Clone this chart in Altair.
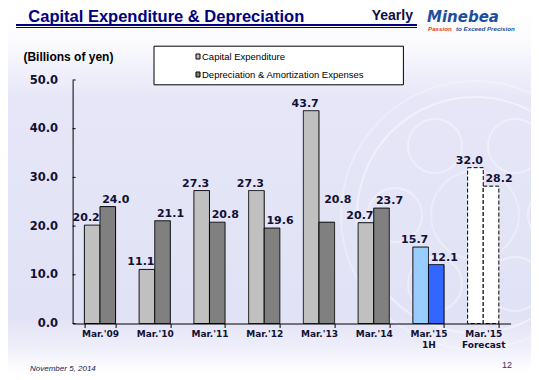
import altair as alt
import pandas as pd

periods = ["Mar.'09", "Mar.'10", "Mar.'11", "Mar.'12", "Mar.'13", "Mar.'14",
           "Mar.'15 1H", "Mar.'15 Forecast"]
capex = [20.2, 11.1, 27.3, 27.3, 43.7, 20.7, 15.7, 32.0]
depreciation = [24.0, 21.1, 20.8, 19.6, 20.8, 23.7, 12.1, 28.2]
series_names = ["Capital Expenditure", "Depreciation & Amortization Expenses"]
y_ticks = [0, 10, 20, 30, 40, 50]

rows = []
for i, p in enumerate(periods):
    phase = "actual" if i < 6 else ("half" if i == 6 else "forecast")
    for s, vals in zip(series_names, [capex, depreciation]):
        # lift a depreciation label when the next capital-expenditure label sits at the same height
        crowded = (s == series_names[1] and i + 1 < len(periods)
                   and abs(capex[i + 1] - vals[i]) < 1.5)
        rows.append({"period": p, "series": s, "value": vals[i],
                     "kind": phase + "|" + s, "crowded": crowded,
                     "dash": "dashed" if phase == "forecast" else "solid"})
df = pd.DataFrame(rows)

kind_domain = [ph + "|" + s for ph in ["actual", "half", "forecast"] for s in series_names]
kind_colors = ["#c0c0c0", "#808080", "#99ccff", "#3366ff", "#ffffff", "#ffffff"]

W, H = 438, 243.5
OX, OY = 72.6, 80.0
PAD = {"left": OX - 8, "top": OY - 8, "right": 523 - (OX - 8) - W, "bottom": 364 - (OY - 8) - H}


def px(x):
    return x - OX


def py(y):
    return y - OY


INK = "#111133"
NUMFONT = "DejaVu Sans"

x_enc = alt.X("period:N", sort=periods,
              scale=alt.Scale(paddingInner=0.43, paddingOuter=0.215),
              axis=alt.Axis(title=None, labelAngle=0, tickBand="extent", tickSize=4,
                            tickColor="black", domainColor="black", zindex=2,
                            labelFont=NUMFONT, labelFontWeight="bold", labelFontSize=9,
                            labelColor=INK, labelPadding=2, labelLineHeight=11,
                            labelExpr="split(datum.label, ' ')"))
xo_enc = alt.XOffset("series:N", sort=series_names,
                     scale=alt.Scale(paddingInner=0, paddingOuter=0))
y_enc = alt.Y("value:Q", scale=alt.Scale(domain=[0, 50], nice=False),
              axis=alt.Axis(title=None, values=y_ticks, format=".1f", ticks=False,
                            labelPadding=15, domainColor="black", grid=False, zindex=2,
                            labelFont=NUMFONT, labelFontWeight="bold", labelFontSize=11.5,
                            labelColor=INK))

one = alt.Data(values=[{}])


def txt(text, x, y, **kw):
    return alt.Chart(one).mark_text(text=text, align="left", baseline="alphabetic", **kw).encode(
        x=alt.value(x), y=alt.value(y))


def ring(cx, cy, r, op=0.45, sw=2):
    return alt.Chart(one).mark_point(shape="circle", filled=False, color="white",
                                     strokeWidth=sw, opacity=op, size=(2 * r) ** 2).encode(
        x=alt.value(px(cx)), y=alt.value(py(cy)))


bg = alt.Chart(one).mark_rect(
    fill=alt.LinearGradient(
        gradient="linear",
        stops=[alt.GradientStop(offset=0, color="#ffffff"),
               alt.GradientStop(offset=0.09, color="#fbfbfe"),
               alt.GradientStop(offset=0.25, color="#e6e6f8"),
               alt.GradientStop(offset=0.85, color="#e2e2f6"),
               alt.GradientStop(offset=0.93, color="#eeeefa"),
               alt.GradientStop(offset=1, color="#ffffff")],
        x1=0, x2=0, y1=0, y2=1)
).encode(x=alt.value(-PAD["left"]), x2=alt.value(W + PAD["right"]),
         y=alt.value(-PAD["top"]), y2=alt.value(H + PAD["bottom"]))

deco = [ring(475, 215, 118), ring(475, 215, 134, op=0.3), ring(475, 215, 44, op=0.3)]
for bx, by in [(555, 215), (515, 284), (435, 284), (395, 215), (435, 146), (515, 146)]:
    deco.append(ring(bx, by, 27, op=0.4))

title = txt("Capital Expenditure & Depreciation", px(28.3), py(21.5), font="Liberation Sans",
            fontSize=16.5, fontWeight="bold", color="#000080")
line1 = alt.Chart(one).mark_rule(color="#000080", strokeWidth=2).encode(
    x=alt.value(px(16)), x2=alt.value(px(417)), y=alt.value(py(25)))
line2 = alt.Chart(one).mark_rule(color="#000080", strokeWidth=1).encode(
    x=alt.value(px(16)), x2=alt.value(px(417)), y=alt.value(py(27.5)))
yearly = txt("Yearly", px(371.7), py(19.5), font="Liberation Sans", fontSize=14,
             fontWeight="bold", color="#0d0d4d")
logo = txt("Minebea", px(427), py(22), font="DejaVu Sans", fontSize=15,
           fontWeight="bold", fontStyle="italic", color="#1d4f9e")
slogan1 = txt("Passion", px(428), py(31.2), font="Liberation Sans", fontSize=6.2,
              fontWeight="bold", fontStyle="italic", color="#e8401c")
slogan2 = txt("to Exceed Precision", px(456), py(31.2), font="Liberation Sans", fontSize=6.2,
              fontWeight="bold", fontStyle="italic", color="#1d4f9e")
unit = txt("(Billions of yen)", px(23.4), py(60.5), font="Liberation Sans", fontSize=12,
           fontWeight="bold", color="#000000")

leg_box = alt.Chart(one).mark_rect(fill="white", stroke="black", strokeWidth=1).encode(
    x=alt.value(px(154)), x2=alt.value(px(403.4)), y=alt.value(py(46.2)), y2=alt.value(py(84.8)))
leg_sym1 = alt.Chart(one).mark_rect(fill="#c0c0c0", stroke="black", strokeWidth=1).encode(
    x=alt.value(px(196)), x2=alt.value(px(200)), y=alt.value(py(54)), y2=alt.value(py(59)))
leg_sym2 = alt.Chart(one).mark_rect(fill="#808080", stroke="black", strokeWidth=1).encode(
    x=alt.value(px(196)), x2=alt.value(px(200)), y=alt.value(py(72)), y2=alt.value(py(77)))
leg_t1 = txt(series_names[0], px(202), py(59.7), font="Liberation Sans", fontSize=9.5, color="#000000")
leg_t2 = txt(series_names[1], px(202), py(77.5), font="Liberation Sans", fontSize=9.5, color="#000000")

date = txt("November 5, 2014", px(30), py(371), font="Liberation Sans", fontSize=8,
           fontStyle="italic", color="#1a1a4a")
page = txt("12", px(502), py(368), font="Liberation Sans", fontSize=9, color="#333355")

bars = alt.Chart(df).mark_bar(stroke="black", strokeWidth=1).encode(
    x=x_enc, xOffset=xo_enc, y=y_enc,
    fill=alt.Fill("kind:N", scale=alt.Scale(domain=kind_domain, range=kind_colors), legend=None),
    strokeDash=alt.StrokeDash("dash:N", scale=alt.Scale(domain=["solid", "dashed"],
                                                         range=[[1, 0], [4, 2]]), legend=None),
)

lab_kw = dict(baseline="alphabetic", font=NUMFONT, fontWeight="bold", fontSize=11, color=INK)
lab_enc = dict(x=x_enc, xOffset=xo_enc, y=y_enc, text=alt.Text("value:Q", format=".1f"))
lab_c = alt.Chart(df).transform_filter(alt.datum.series == series_names[0]).mark_text(
    dx=-6, dy=-4, **lab_kw).encode(**lab_enc)
lab_d = alt.Chart(df).transform_filter(
    (alt.datum.series == series_names[1]) & (alt.datum.crowded == False)).mark_text(
    dx=8, dy=-4, **lab_kw).encode(**lab_enc)
lab_d_up = alt.Chart(df).transform_filter(
    (alt.datum.series == series_names[1]) & (alt.datum.crowded == True)).mark_text(
    dx=11, dy=-19, **lab_kw).encode(**lab_enc)

ticks = alt.Chart(pd.DataFrame({"value": y_ticks})).mark_rule(color="black").encode(
    y=y_enc, x=alt.value(0), x2=alt.value(3))

chart = alt.layer(
    bg, *deco, title, line1, line2, yearly, logo, slogan1, slogan2, unit,
    leg_box, leg_sym1, leg_sym2, leg_t1, leg_t2, date, page,
    bars, lab_c, lab_d, lab_d_up, ticks
).properties(
    width=W, height=H, padding=PAD, autosize=alt.AutoSizeParams(type="none")
).configure_view(stroke=None)

chart.save("out.html", embed_options={"renderer": "svg", "actions": False})
